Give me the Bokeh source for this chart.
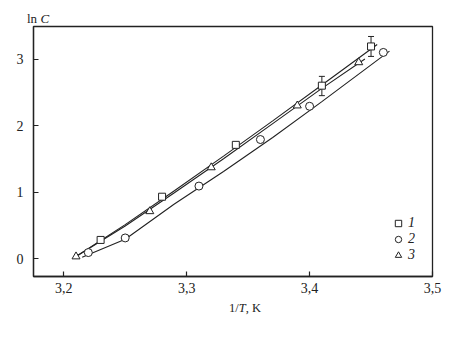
from bokeh.plotting import figure
from bokeh.models import (Range1d, FixedTicker, Legend, LegendItem,
                          ColumnDataSource, Whisker, TeeHead, Div)
from bokeh.layouts import column
from bokeh.embed import file_html
from bokeh.resources import INLINE

# ---- data ----
x1 = [3.23, 3.28, 3.34, 3.41, 3.45]
y1 = [0.28, 0.93, 1.71, 2.60, 3.19]
err_x1 = [3.41, 3.45]
err_lo1 = [2.45, 3.04]
err_hi1 = [2.74, 3.34]

x2 = [3.22, 3.25, 3.31, 3.36, 3.40, 3.46]
y2 = [0.09, 0.31, 1.09, 1.79, 2.29, 3.10]

x3 = [3.21, 3.27, 3.32, 3.39, 3.44]
y3 = [0.03, 0.71, 1.37, 2.30, 2.95]

# fitted curves
cx1 = [3.21, 3.25, 3.29, 3.33, 3.37, 3.41, 3.455]
cy1 = [0.03, 0.51, 1.02, 1.54, 2.07, 2.61, 3.22]
cx3 = [3.21, 3.25, 3.29, 3.33, 3.37, 3.41, 3.445]
cy3 = [0.03, 0.49, 0.99, 1.50, 2.03, 2.56, 3.00]
cx2 = [3.215, 3.25, 3.29, 3.33, 3.37, 3.41, 3.465]
cy2 = [0.02, 0.29, 0.82, 1.31, 1.82, 2.36, 3.12]

x_ticks = [3.2, 3.3, 3.4, 3.5]
x_tick_labels = ["3,2", "3,3", "3,4", "3,5"]
y_ticks = [0, 1, 2, 3]
legend_labels = ["1", "2", "3"]
y_title = "ln <i>C</i>"
x_title = "1/<i>T</i>, K"

FONT = "Liberation Serif"
INK = "#222222"

p = figure(width=458, height=275, output_backend="svg", toolbar_location=None,
           x_range=Range1d(3.1754, 3.5), y_range=Range1d(-0.27, 3.49),
           min_border_left=33, min_border_right=26, min_border_top=1,
           min_border_bottom=24, margin=0)
p.grid.visible = False
p.outline_line_color = INK
p.outline_line_width = 1.3
p.background_fill_color = "white"
p.border_fill_color = "white"

for ax in (p.xaxis[0], p.yaxis[0]):
    ax.axis_line_color = INK
    ax.axis_line_width = 1.3
    ax.major_tick_in = 5
    ax.major_tick_out = 0
    ax.minor_tick_in = 0
    ax.minor_tick_out = 0
    ax.major_tick_line_color = INK
    ax.major_tick_line_width = 1.2
    ax.major_label_text_font = FONT
    ax.major_label_text_font_size = "14px"
    ax.major_label_text_color = INK

p.xaxis.ticker = FixedTicker(ticks=x_ticks)
p.xaxis.major_label_overrides = {t: s for t, s in zip(x_ticks, x_tick_labels)}
p.xaxis.major_label_standoff = 6
p.yaxis.ticker = FixedTicker(ticks=y_ticks)
p.yaxis.major_label_standoff = 10

# curves
p.line(cx1, cy1, line_color=INK, line_width=1.1)
p.line(cx3, cy3, line_color=INK, line_width=1.1)
p.line(cx2, cy2, line_color=INK, line_width=1.1)

# error bars
esrc = ColumnDataSource(dict(x=err_x1, lo=err_lo1, hi=err_hi1))
p.add_layout(Whisker(source=esrc, base="x", lower="lo", upper="hi",
                     line_color=INK, line_width=1,
                     upper_head=TeeHead(size=6, line_color=INK, line_width=1),
                     lower_head=TeeHead(size=6, line_color=INK, line_width=1)))

r1 = p.scatter(x1, y1, marker="square", size=7, fill_color="white",
               line_color=INK, line_width=1)
r2 = p.scatter(x2, y2, marker="circle", size=8, fill_color="white",
               line_color=INK, line_width=1)
r3 = p.scatter(x3, y3, marker="triangle", size=8, fill_color="white",
               line_color=INK, line_width=1)

legend = Legend(items=[LegendItem(label=legend_labels[0], renderers=[r1]),
                       LegendItem(label=legend_labels[1], renderers=[r2]),
                       LegendItem(label=legend_labels[2], renderers=[r3])],
                location=(355, 13), glyph_width=20, glyph_height=16,
                label_height=16, label_standoff=0, spacing=0, padding=0,
                margin=0, border_line_color=None, background_fill_alpha=0,
                label_text_font=FONT, label_text_font_style="italic",
                label_text_font_size="14px", label_text_color=INK)
p.add_layout(legend)

top = Div(text=f'<div style="margin-left:27px;margin-top:12px;'
               f'font-family:\'{FONT}\';font-size:13px;line-height:13px;'
               f'color:{INK};white-space:nowrap">{y_title}</div>',
          width=458, height=25, margin=0)
bottom = Div(text=f'<div style="margin-left:229px;margin-top:1px;'
                  f'font-family:\'{FONT}\';font-size:12.5px;line-height:12px;'
                  f'color:{INK};white-space:nowrap">{x_title}</div>',
             width=458, height=37, margin=0)

layout = column(top, p, bottom, spacing=0, margin=0)
open("out.html", "w").write(file_html(layout, INLINE))
